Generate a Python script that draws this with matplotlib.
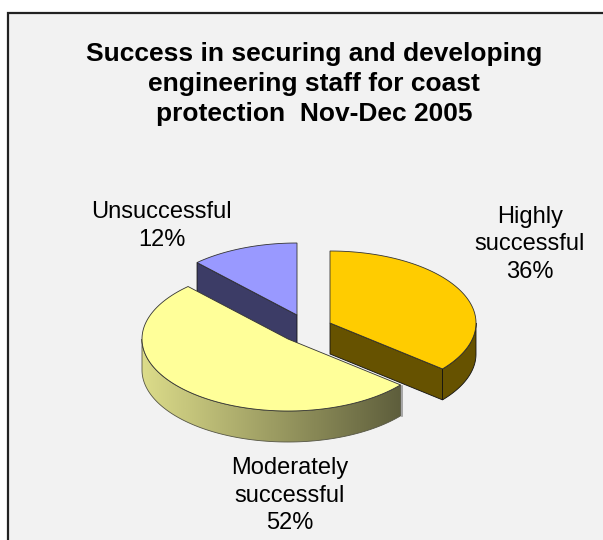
"""
Exploded 3D-style pie of survey responses, drawn in pixel coordinates.
  python plot.py
"""
import numpy as np
import matplotlib
matplotlib.use("Agg")
import matplotlib.pyplot as plt
from matplotlib.patches import Polygon, Rectangle

plt.rcParams["font.family"] = ["Liberation Sans", "DejaVu Sans"]

TITLE = "Success in securing and developing\nengineering staff for coast\nprotection  Nov-Dec 2005"
labels = ["Highly\nsuccessful\n36%", "Moderately\nsuccessful\n52%", "Unsuccessful\n12%"]
shares = [36, 52, 12]

top_cols = ["#ffcc00", "#ffff99", "#9999ff"]
side_cols = ["#665200", "#dcdc8a", "#3c3c66"]
side_cols_end = ["#665200", "#5e5e3c", "#3c3c66"]
apex = [(330, 323), (288, 339), (297, 315)]
label_pos = [(530, 244.5), (290, 495.5), (161.5, 226)]

RX, RY, DEPTH = 146, 72, 31
W, H = 603, 540


def rim(cx, cy, a0, a1, n=120):
    # angles in degrees, clockwise from 12 o'clock
    t = np.radians(np.linspace(a0, a1, n))
    return np.column_stack([cx + RX * np.sin(t), cy - RY * np.cos(t)])


fig = plt.figure(figsize=(W / 100, H / 100), dpi=100)
ax = fig.add_axes([0, 0, 1, 1])
ax.set_xlim(0, W); ax.set_ylim(H, 0); ax.axis("off")
# chart area runs off the right and bottom edges
ax.add_patch(Rectangle((7.5, 12.5), 700, 600, fc="#f2f2f2", ec="#222222", lw=1.6, zorder=0))

edges = np.cumsum([0] + shares) * 3.6
# back to front: blue wedge, gold wedge, yellow wedge
for i in [2, 0, 1]:
    cx, cy = apex[i]
    a0, a1 = edges[i], edges[i + 1]
    z = 2 + [2, 0, 1].index(i) * 2
    arc = rim(cx, cy, a0, a1)
    outline = np.vstack([[cx, cy], arc])

    # cut faces seen from the front
    if i == 2:
        face = np.array([arc[0], [cx, cy], [cx, cy + DEPTH], arc[0] + [0, DEPTH]])
        ax.add_patch(Polygon(face, fc=side_cols[i], ec="#111111", lw=0.6, zorder=z))
    if i == 0:
        face = np.array([[cx, cy], arc[-1], arc[-1] + [0, DEPTH], [cx, cy + DEPTH]])
        ax.add_patch(Polygon(face, fc=side_cols[i], ec="#111111", lw=0.6, zorder=z))

    # outer wall: only the part of the rim that faces the viewer
    lo, hi = max(a0, 90), min(a1, 270)
    wall = rim(cx, cy, lo, hi)
    wall_poly = np.vstack([wall, (wall + [0, DEPTH])[::-1]])
    if i == 1:
        # wall shades dark towards the right
        c_left = np.array(matplotlib.colors.to_rgb(side_cols[i]))
        c_right = np.array(matplotlib.colors.to_rgb(side_cols_end[i]))
        ramp = np.linspace(0, 1, 256)[None, :, None] * (c_right - c_left) + c_left
        x0, x1 = wall_poly[:, 0].min(), wall_poly[:, 0].max()
        y0, y1 = wall_poly[:, 1].min(), wall_poly[:, 1].max()
        clip = Polygon(wall_poly, fc="none", ec="none", transform=ax.transData)
        ax.add_patch(clip)
        im = ax.imshow(ramp, extent=(x0, x1, y1, y0), aspect="auto", zorder=z)
        im.set_clip_path(clip)
        ax.set_xlim(0, W); ax.set_ylim(H, 0)
        ax.add_patch(Polygon(wall_poly, fc="none", ec="#555544", lw=0.6, zorder=z + 0.5))
        # soft drop shadow on the cut end of the wall
        ax.plot([arc[0][0] + 1.5] * 2, [arc[0][1] + 1, arc[0][1] + DEPTH], color="#999999",
                lw=1.2, zorder=z - 0.5)
    elif hi > lo:
        ax.add_patch(Polygon(wall_poly, fc=side_cols[i], ec="#111111", lw=0.6, zorder=z))

    ax.add_patch(Polygon(outline, fc=top_cols[i], ec="#333333", lw=0.6, zorder=z + 1))

ax.text(314, 84, TITLE, ha="center", va="center", fontsize=19, fontweight="bold",
        linespacing=1.33, color="black", zorder=10)
for txt, (x, y) in zip(labels, label_pos):
    ax.text(x, y, txt, ha="center", va="center", fontsize=17, linespacing=1.33,
            color="black", zorder=10)

fig.savefig("out.png", dpi=100)
